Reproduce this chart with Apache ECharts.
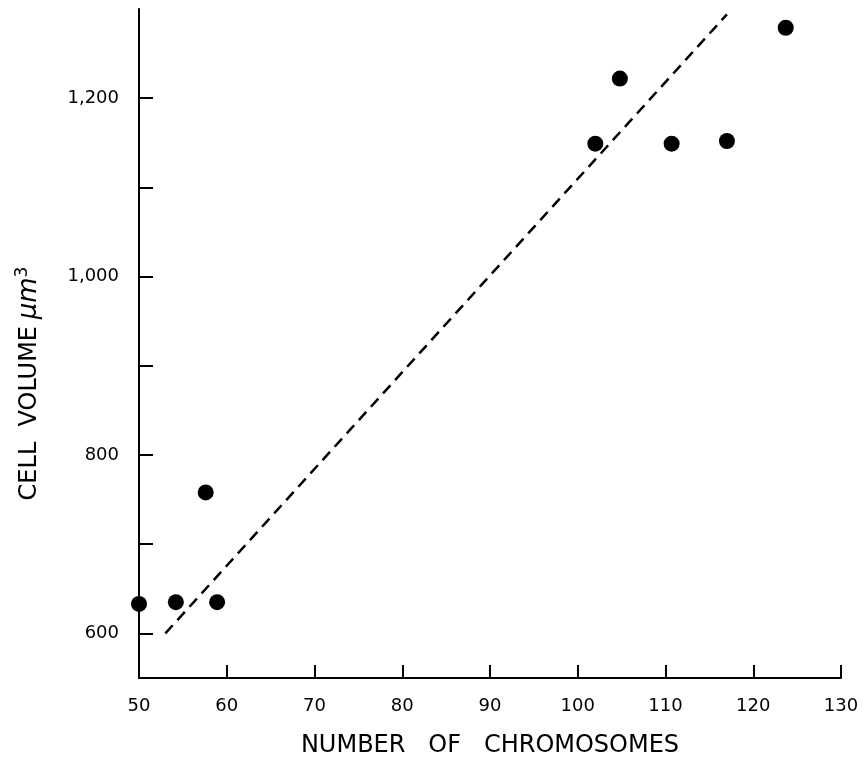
<!DOCTYPE html>
<html>
<head>
<meta charset="utf-8">
<script src="https://cdn.jsdelivr.net/npm/echarts@6/dist/echarts.min.js"></script>
<style>
  html, body { margin: 0; padding: 0; background: #fff; }
  #chart { width: 867px; height: 763px; }
</style>
</head>
<body>
<div id="chart"></div>
<script>
// data
const chromosomes = [50, 54.2, 57.6, 58.9, 102, 104.8, 110.7, 117, 123.7]
const cellVolume = [633, 635, 758, 635, 1149, 1222, 1149, 1152, 1279]
// dashed fitted line (end points)
const fitX = [53, 117]
const fitY = [600, 1294]
// ticks and labels
const xLabelValues = [50, 60, 70, 80, 90, 100, 110, 120, 130]
const xTickValues = [60, 70, 80, 90, 100, 110, 120, 130]
const yLabelValues = [600, 800, 1000, 1200]
const yTickValues = [600, 700, 800, 900, 1000, 1100, 1200]

const chart = echarts.init(document.getElementById('chart'))
const font = 'DejaVu Sans'

const option = {
  animation: false,
  grid: { left: 139, right: 26, top: 9, bottom: 85 },
  xAxis: {
    type: 'value',
    min: 50,
    max: 130,
    interval: 10,
    name: 'NUMBER   OF   CHROMOSOMES',
    nameLocation: 'middle',
    nameGap: 56,
    nameTextStyle: { fontFamily: font, fontSize: 24, color: '#000' },
    axisLine: { lineStyle: { color: '#000', width: 2 } },
    axisTick: {
      inside: true, length: 13, customValues: xTickValues,
      lineStyle: { color: '#000', width: 2 }
    },
    axisLabel: {
      customValues: xLabelValues, margin: 19,
      fontFamily: font, fontSize: 18, color: '#000'
    },
    splitLine: { show: false }
  },
  yAxis: {
    type: 'value',
    min: 550,
    max: 1300,
    name: '{t|CELL  VOLUME}  {u|μm}{s|3}',
    nameLocation: 'middle',
    nameGap: 94,
    nameRotate: 90,
    nameTextStyle: {
      color: '#000',
      rich: {
        t: { fontFamily: font, fontSize: 24, color: '#000' },
        u: { fontFamily: font, fontSize: 26, fontStyle: 'italic', color: '#000' },
        s: { fontFamily: font, fontSize: 17, color: '#000', verticalAlign: 'top', padding: [0, 80, 14, 0] }
      }
    },
    axisLine: { show: true, lineStyle: { color: '#000', width: 2 } },
    axisTick: {
      show: true, inside: true, length: 14, customValues: yTickValues,
      lineStyle: { color: '#000', width: 2 }
    },
    axisLabel: {
      customValues: yLabelValues, margin: 20,
      fontFamily: font, fontSize: 18, color: '#000',
      formatter: v => v.toLocaleString('en-US')
    },
    splitLine: { show: false }
  },
  series: [
    {
      type: 'scatter',
      symbol: 'circle',
      symbolSize: 16,
      itemStyle: { color: '#000', opacity: 1 },
      data: chromosomes.map((x, i) => [x, cellVolume[i]])
    },
    {
      type: 'line',
      symbol: 'none',
      lineStyle: { color: '#000', width: 2.5, type: [11, 7] },
      data: fitX.map((x, i) => [x, fitY[i]])
    }
  ]
}

chart.setOption(option)
</script>
</body>
</html>
